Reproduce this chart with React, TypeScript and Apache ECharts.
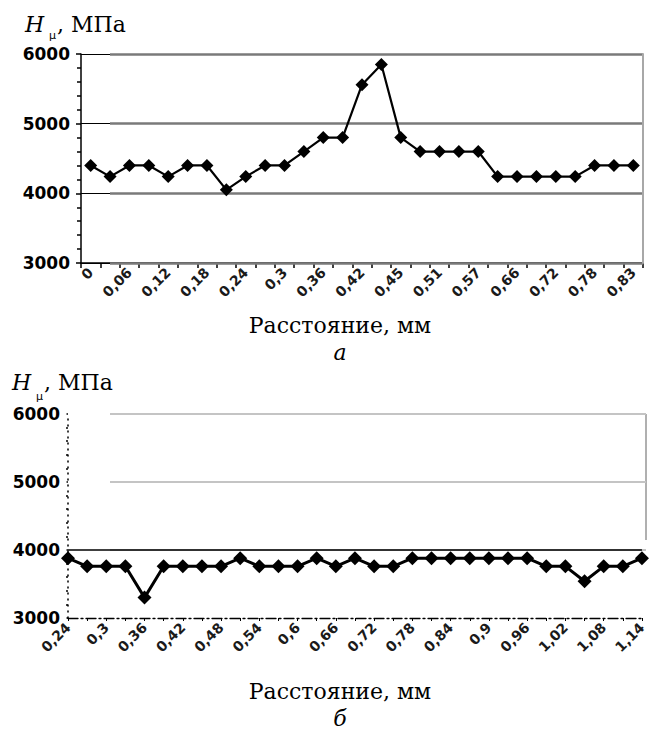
import React, { useEffect, useRef } from "react";
import * as echarts from "echarts";

const topCats = ["0","0,03","0,06","0,09","0,12","0,15","0,18","0,21","0,24","0,27","0,3","0,33","0,36","0,39","0,42","0,44","0,45","0,48","0,51","0,54","0,57","0,6","0,66","0,69","0,72","0,75","0,78","0,81","0,83"];
const topVals = [4400,4240,4400,4400,4240,4400,4400,4050,4240,4400,4400,4600,4800,4800,5560,5850,4800,4600,4600,4600,4600,4240,4240,4240,4240,4240,4400,4400,4400];

const botCats = ["0,24","0,27","0,3","0,33","0,36","0,39","0,42","0,45","0,48","0,51","0,54","0,57","0,6","0,63","0,66","0,69","0,72","0,75","0,78","0,81","0,84","0,87","0,9","0,93","0,96","0,99","1,02","1,05","1,08","1,11","1,14"];
const botVals = [3880,3760,3760,3760,3300,3760,3760,3760,3760,3880,3760,3760,3760,3880,3760,3880,3760,3760,3880,3880,3880,3880,3880,3880,3880,3760,3760,3540,3760,3760,3880];

const yMin = 3000;
const yMax = 6000;
const yStep = 1000;

const serif = '"DejaVu Serif", serif';
const sans = '"DejaVu Sans", sans-serif';

export default function App() {
  const ref = useRef<HTMLDivElement>(null);
  useEffect(() => {
    if (!ref.current) return;
    const chart = echarts.init(ref.current, null, { renderer: "svg" });
    const yLabel = (margin: number) => ({
      fontSize: 17, fontWeight: "bold", fontFamily: sans, color: "#000", margin,
      formatter: (v: number) => String(v),
    });
    const xLabel = (size: number) => ({
      interval: 1, rotate: 45, fontSize: size, fontWeight: "bold", fontFamily: sans, color: "#1a1a1a", margin: 7,
    });
    const textEl = (text: string, x: number, y: number, font: string, align = "left") => ({
      type: "text", x, y, silent: true,
      style: { text, font, fill: "#000", textAlign: align, textVerticalAlign: "top" },
    });
    const option: any = {
      animation: false,
      grid: [
        { left: 81, top: 54, width: 562, height: 209 },
        { left: 110, top: 54, width: 533, height: 209 },
        { left: 68, top: 414, width: 578, height: 204 },
        { left: 110, top: 414, width: 536, height: 204 },
      ],
      xAxis: [
        {
          gridIndex: 0, type: "category", data: topCats, boundaryGap: true,
          axisLine: { lineStyle: { color: "#000", width: 1.5 } },
          axisTick: { show: true, interval: 0, length: 5, lineStyle: { color: "#000", width: 1.5 } },
          axisLabel: xLabel(14),
        },
        { gridIndex: 1, type: "value", show: false },
        {
          gridIndex: 2, type: "category", data: botCats, boundaryGap: false,
          axisLine: { lineStyle: { color: "#000", width: 1.3, type: [10, 3, 2, 3] } },
          axisTick: { show: true, interval: 0, length: 3, lineStyle: { color: "#000" } },
          axisLabel: xLabel(14),
        },
        { gridIndex: 3, type: "value", show: false },
      ],
      yAxis: [
        {
          gridIndex: 0, type: "value", min: yMin, max: yMax, interval: yStep,
          axisLine: { show: true, lineStyle: { color: "#000", width: 1.5 } },
          axisTick: { show: true, length: 5, lineStyle: { color: "#000", width: 1.5 } },
          minorTick: { show: true, splitNumber: 5, length: 4, lineStyle: { color: "#000", width: 1.5 } },
          axisLabel: yLabel(11),
          splitLine: { show: true, lineStyle: { color: "#000", width: 1 } },
        },
        {
          gridIndex: 1, type: "value", min: yMin, max: yMax, interval: yStep, position: "right", z: 1,
          axisLine: { show: true, onZero: false, lineStyle: { color: "#a8a8a8", width: 2 } },
          axisTick: { show: false }, axisLabel: { show: false },
          splitLine: { show: true, lineStyle: { color: "#7a7a7a", width: 2.5 } },
        },
        {
          gridIndex: 2, type: "value", min: yMin, max: yMax, interval: yStep,
          axisLine: { show: true, lineStyle: { color: "#000", width: 1.5, type: [1, 5] } },
          axisTick: { show: true, length: 3, lineStyle: { color: "#000", width: 1.5, type: "dotted" } },
          minorTick: { show: true, splitNumber: 5, length: 2, lineStyle: { color: "#000", width: 1.5 } },
          axisLabel: yLabel(8),
          splitLine: { show: false },
        },
        {
          gridIndex: 3, type: "value", min: yMin, max: yMax, interval: yStep, z: 1,
          axisLine: { show: false }, axisTick: { show: false }, axisLabel: { show: false },
          splitLine: { show: true, showMinLine: false, lineStyle: { color: "#c4c4c4", width: 2 } },
        },
      ],
      series: [
        {
          type: "line", xAxisIndex: 0, yAxisIndex: 0, data: topVals, z: 5,
          symbol: "diamond", symbolSize: 13, showAllSymbol: true,
          lineStyle: { color: "#000", width: 2.2 }, itemStyle: { color: "#000" },
        },
        {
          type: "line", xAxisIndex: 2, yAxisIndex: 2, data: botVals, z: 5,
          symbol: "diamond", symbolSize: 14, showAllSymbol: true,
          lineStyle: { color: "#000", width: 3 }, itemStyle: { color: "#000" },
          markLine: {
            silent: true, symbol: "none", label: { show: false },
            lineStyle: { color: "#000", width: 1.5, type: "solid" },
            data: [{ yAxis: 4000 }],
          },
        },
      ],
      graphic: [
        textEl("H", 25, 13, `italic 22px ${serif}`),
        textEl("μ", 49, 30, `11px ${sans}`),
        textEl(", МПа", 57, 13, `22px ${serif}`),
        textEl("Расстояние, мм", 340, 314, `22px ${serif}`, "center"),
        textEl("а", 340, 341, `italic 22px ${serif}`, "center"),
        textEl("H", 12, 371, `italic 22px ${serif}`),
        textEl("μ", 36, 391, `11px ${sans}`),
        textEl(", МПа", 44, 371, `22px ${serif}`),
        textEl("Расстояние, мм", 340, 680, `22px ${serif}`, "center"),
        textEl("б", 340, 707, `italic 22px ${serif}`, "center"),
        {
          type: "line", silent: true,
          shape: { x1: 646, y1: 414, x2: 646, y2: 540 },
          style: { stroke: "#b0b0b0", lineWidth: 2 },
        },
      ],
    };
    chart.setOption(option);
    return () => chart.dispose();
  }, []);
  return (
    <div
      ref={ref}
      style={{ position: "absolute", left: 0, top: 0, width: 649, height: 733, background: "#fff" }}
    />
  );
}
